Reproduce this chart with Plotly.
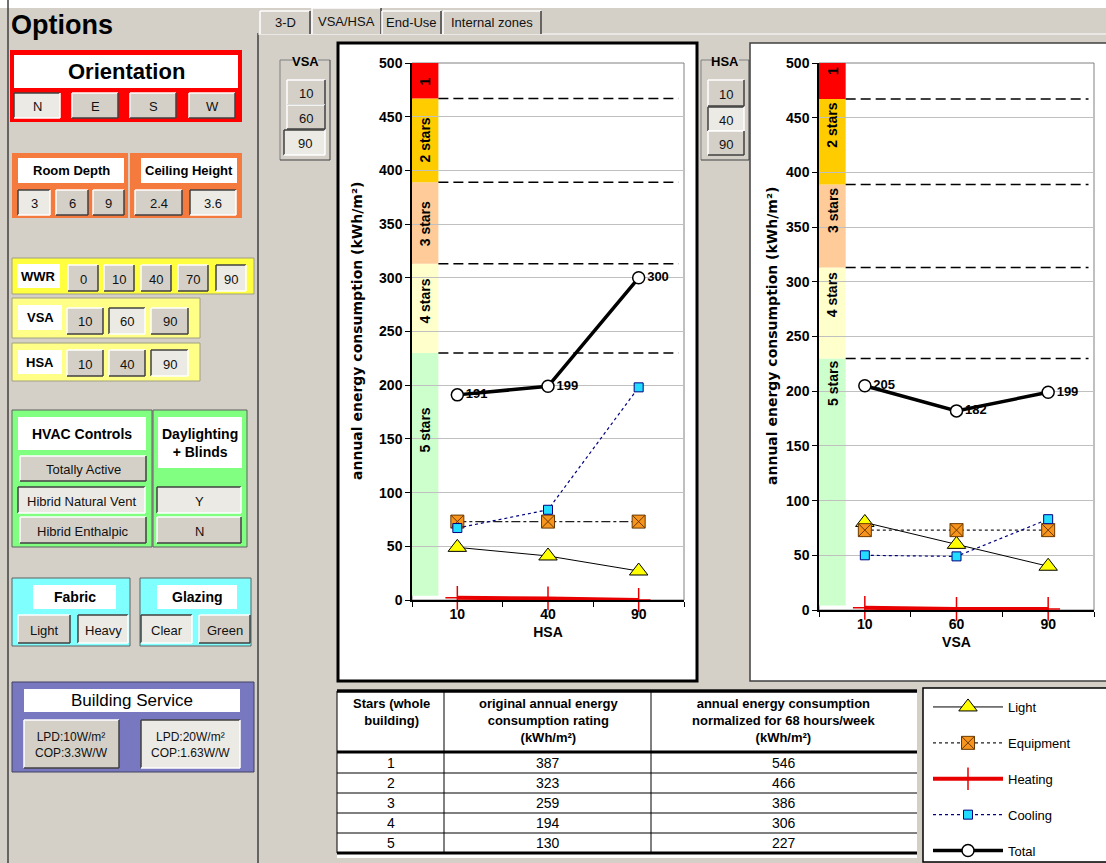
import plotly.graph_objects as go

W, H = 1106, 863

# ---------------- data ----------------
hsa_categories = ['10', '40', '90']
vsa_categories = ['10', '60', '90']

hsa_light = [49, 41, 27]
hsa_equipment = [73, 73, 73]
hsa_heating = [2, 1.5, 0]
hsa_cooling = [67, 84, 198]
hsa_total = [191, 199, 300]

vsa_light = [80, 60, 40]
vsa_equipment = [73, 73, 73]
vsa_heating = [2, 1, 1]
vsa_cooling = [50, 49, 83]
vsa_total = [205, 182, 199]

star_labels = ['5 stars', '4 stars', '3 stars', '2 stars', '1']
star_bounds = [4, 230, 313, 389, 467, 500]
star_thresholds = [230, 313, 389, 467]

table_stars = ['1', '2', '3', '4', '5']
table_original = ['387', '323', '259', '194', '130']
table_normalized = ['546', '466', '386', '306', '227']

series_names = ['Light', 'Equipment', 'Heating', 'Cooling', 'Total']

# ---------------- helpers ----------------
BG = '#D4D0C8'
UI = 'Liberation Sans, Arial, sans-serif'
NARROW = 'Liberation Sans Narrow, Arial Narrow, Liberation Sans, Arial, sans-serif'

shapes = []
annotations = []


def X(px):
    return px / W


def Y(py):
    return 1 - py / H


def rect(x0, y0, x1, y1, fill=None, line=None, lw=1):
    shapes.append(dict(type='rect', xref='paper', yref='paper', layer='below',
                       x0=X(x0), x1=X(x1), y0=Y(y1), y1=Y(y0),
                       fillcolor=fill if fill else 'rgba(0,0,0,0)',
                       line=dict(color=line if line else 'rgba(0,0,0,0)', width=lw if line else 0)))


def seg(x0, y0, x1, y1, color='#000', lw=1, dash=None):
    d = dict(color=color, width=lw)
    if dash:
        d['dash'] = dash
    shapes.append(dict(type='line', xref='paper', yref='paper', layer='below',
                       x0=X(x0), x1=X(x1), y0=Y(y0), y1=Y(y1), line=d))


def text(x, y, t, size=13, color='#111', bold=False, xanchor='center', font=UI, angle=0):
    annotations.append(dict(xref='paper', yref='paper', x=X(x), y=Y(y), text=t,
                            showarrow=False, xanchor=xanchor, yanchor='middle', textangle=angle,
                            font=dict(family=font, size=size, color=color,
                                      weight='bold' if bold else 'normal')))


def button(x0, y0, x1, y1, label, pressed=False, size=13):
    fill = '#ECEAE5' if pressed else BG
    rect(x0, y0, x1, y1, fill)
    dark, light = '#404040', '#FFFFFF'
    tl = dark if pressed else light
    br = light if pressed else dark
    seg(x0, y0, x1, y0, tl, 1.5)
    seg(x0, y0, x0, y1, tl, 1.5)
    seg(x0, y1, x1, y1, br, 1.5)
    seg(x1, y0, x1, y1, br, 1.5)
    text((x0 + x1) / 2, (y0 + y1) / 2 + 1, label, size)


def label_box(x0, y0, x1, y1, label, size=13, bold=True):
    rect(x0, y0, x1, y1, '#FFFFFF')
    text((x0 + x1) / 2, (y0 + y1) / 2, label, size, '#000', bold)


# ---------------- page background ----------------
rect(0, 0, W, 8, '#FFFFFF')
seg(8, 0, 8, H, '#404040', 1.5)
seg(258, 33, 258, H, '#404040', 1.5)
seg(258, 34, W, 34, '#FFFFFF', 1)

# ---------------- left options panel ----------------
text(9, 25, 'Options', 27, '#000', True, 'left')

# Orientation
rect(10, 50, 242, 122, '#FF0000')
label_box(14, 55, 238, 88, 'Orientation', 22)
for (a, b), lab, p in zip([(14, 60), (72, 118), (130, 176), (189, 235)], ['N', 'E', 'S', 'W'],
                          [True, False, False, False]):
    button(a, 93, b, 118, lab, p)

# Room depth / ceiling height
OR = '#F47A3E'
rect(12, 153, 128, 218, OR)
rect(130, 153, 242, 218, OR)
label_box(18, 158, 124, 183, 'Room Depth', 13)
label_box(141, 158, 237, 183, 'Ceiling Height', 13)
for (a, b), lab, p in zip([(18, 50), (56, 88), (93, 124)], ['3', '6', '9'], [True, False, False]):
    button(a, 190, b, 215, lab, p)
for (a, b), lab, p in zip([(135, 182), (190, 236)], ['2.4', '3.6'], [False, True]):
    button(a, 190, b, 215, lab, p)

# WWR
rect(12, 258, 254, 294, '#FFFF40', '#A0A080')
label_box(17, 264, 60, 288, 'WWR', 13)
for (a, b), lab, p in zip([(68, 98), (104, 134), (141, 171), (178, 208), (216, 246)],
                          ['0', '10', '40', '70', '90'], [False, False, False, False, True]):
    button(a, 265, b, 291, lab, p)

# VSA / HSA
rect(12, 298, 200, 338, '#FFFF88', '#A0A080')
label_box(18, 305, 62, 330, 'VSA', 13)
for (a, b), lab, p in zip([(67, 103), (109, 145), (151, 188)], ['10', '60', '90'], [False, True, False]):
    button(a, 308, b, 334, lab, p)
rect(12, 343, 200, 381, '#FFFF88', '#A0A080')
label_box(18, 350, 62, 374, 'HSA', 13)
for (a, b), lab, p in zip([(67, 103), (109, 145), (151, 188)], ['10', '40', '90'], [False, False, True]):
    button(a, 350, b, 376, lab, p)

# HVAC / Daylighting
GR = '#80FF80'
rect(12, 410, 152, 547, GR, '#606060')
rect(153, 410, 247, 547, GR, '#606060')
label_box(18, 417, 146, 450, 'HVAC Controls', 14)
label_box(158, 417, 242, 468, 'Daylighting<br>+ Blinds', 14)
button(20, 456, 146, 481, 'Totally Active')
button(18, 487, 145, 513, 'Hibrid Natural Vent', True)
button(20, 517, 146, 543, 'Hibrid Enthalpic')
button(157, 487, 241, 513, 'Y', True)
button(157, 517, 241, 543, 'N')

# Fabric / Glazing
CY = '#80FFFF'
rect(12, 578, 130, 646, CY, '#606060')
rect(140, 578, 251, 646, CY, '#606060')
label_box(33, 585, 116, 609, 'Fabric', 14)
label_box(157, 585, 237, 609, 'Glazing', 14)
button(18, 615, 70, 643, 'Light')
button(78, 615, 128, 643, 'Heavy', True)
button(141, 615, 192, 643, 'Clear', True)
button(199, 615, 250, 643, 'Green')

# Building service
rect(12, 682, 254, 772, '#7878C0', '#404060')
label_box(24, 689, 240, 712, 'Building Service', 17, False)
button(24, 720, 119, 768, 'LPD:10W/m²<br>COP:3.3W/W', False, 12)
button(141, 720, 240, 768, 'LPD:20W/m²<br>COP:1.63W/W', True, 12)

# ---------------- tabs ----------------
for (a, b), lab, active in zip([(260, 310), (312, 381), (382, 441), (443, 541)],
                               ['3-D', 'VSA/HSA', 'End-Use', 'Internal zones'],
                               [False, True, False, False]):
    top = 8 if active else 11
    rect(a, top, b, 34, BG)
    seg(a, top, b, top, '#FFFFFF', 1.5)
    seg(a, top, a, 34, '#FFFFFF', 1.5)
    seg(b, top, b, 34, '#404040', 1.5)
    text((a + b) / 2, 21 if active else 23, lab, 13)

# VSA group box
seg(280, 60, 293, 60, '#808080'); seg(318, 60, 330, 60, '#808080')
seg(280, 60, 280, 160, '#808080'); seg(330, 60, 330, 160, '#404040'); seg(280, 160, 330, 160, '#404040')
text(305, 61, 'VSA', 13, '#000', True)
button(287, 80, 325, 105, '10')
button(287, 105, 325, 129, '60')
button(284, 130, 325, 155, '90', True)

# HSA group box
seg(701, 60, 712, 60, '#808080'); seg(739, 60, 749, 60, '#808080')
seg(701, 60, 701, 160, '#808080'); seg(749, 60, 749, 160, '#404040')
seg(701, 160, 749, 160, '#404040')
text(725, 61, 'HSA', 13, '#000', True)
button(708, 80, 744, 106, '10')
button(708, 107, 744, 131, '40', True)
button(708, 131, 744, 155, '90')

# ---------------- chart frames ----------------
rect(338, 43, 697, 681, '#FFFFFF', '#000000', 3)
rect(750, 43, 1110, 681, '#FFFFFF', '#404040', 1.5)

# ---------------- table ----------------
TX0, TX1 = 337, 917
rect(TX0, 689, TX1, 858, '#FFFFFF')
seg(TX0, 691, TX1, 691, '#000', 3.5)
seg(TX0, 752, TX1, 752, '#000', 3)
seg(TX0, 853, TX1, 853, '#000', 3)
row_tops = [753 + 20 * i for i in range(len(table_stars))]
for yy in row_tops[1:]:
    seg(TX0, yy, TX1, yy, '#000', 1)
for xx in [TX0, 444, 651]:
    seg(xx, 691, xx, 853, '#000', 1)
text(391, 712, 'Stars (whole<br>building)', 13, '#000', True, font=NARROW)
text(548, 720, 'original annual energy<br>consumption rating<br>(kWh/m²)', 13, '#000', True, font=NARROW)
text(784, 720, 'annual energy consumption<br>normalized for 68 hours/week<br>(kWh/m²)', 13, '#000', True, font=NARROW)
for i in range(len(table_stars)):
    cy = row_tops[i] + 10
    text(391, cy, table_stars[i], 14, '#000', font=NARROW)
    text(548, cy, table_original[i], 14, '#000', font=NARROW)
    text(784, cy, table_normalized[i], 14, '#000', font=NARROW)

# legend box
rect(923, 688, 1112, 862, '#FFFFFF', '#000000', 1.5)

# ---------------- charts ----------------
band_colors = ['#CCFFCC', '#FFFFCC', '#FFCC99', '#FFCC00', '#FF0000']
BAND_W = 0.097


def chart_decor(xr, yr, label_pos):
    xd = xr + ' domain'
    yd = yr + ' domain'
    shapes.append(dict(type='rect', xref=xd, yref=yd, x0=0, x1=1, y0=0, y1=1, layer='below',
                       line=dict(color='#808080', width=1)))
    for i in range(len(star_labels)):
        shapes.append(dict(type='rect', xref=xd, yref=yr, x0=0, x1=BAND_W,
                           y0=star_bounds[i], y1=star_bounds[i + 1], layer='below',
                           fillcolor=band_colors[i], line=dict(width=0)))
        annotations.append(dict(xref=xd, yref=yr, x=BAND_W / 2, y=label_pos[i], text=star_labels[i],
                                textangle=-90, showarrow=False, xanchor='center', yanchor='middle',
                                font=dict(family=UI, size=14, color='#000', weight='bold')))
    for t in star_thresholds:
        shapes.append(dict(type='line', xref=xd, yref=yr, x0=BAND_W, x1=0.98, y0=t, y1=t,
                           layer='below', line=dict(color='#000', width=1.5, dash='10px,5px')))


chart_decor('x', 'y', [158, 278, 350, 428, 483])
chart_decor('x2', 'y2', [207, 288, 365, 443, 493])

traces = []


def add_series(cats, light, equip, heat, cool, total, xa, ya, show, equip_dash):
    common = dict(xaxis=xa, yaxis=ya, showlegend=show, mode='lines+markers', cliponaxis=False)
    traces.append(go.Scatter(x=cats, y=light, name=series_names[0], legendgroup='a', **common,
                             line=dict(color='#000', width=1),
                             marker=dict(symbol='triangle-up', size=16, color='#FFFF00',
                                         line=dict(color='#000', width=1))))
    traces.append(go.Scatter(x=cats, y=equip, name=series_names[1], legendgroup='b', **common,
                             line=dict(color='#202020', width=1.2, dash=equip_dash),
                             marker=dict(symbol='square-x', size=13, color='#F7941D',
                                         line=dict(color='#6B3A00', width=1))))
    traces.append(go.Scatter(x=cats, y=heat, name=series_names[2], legendgroup='c', **common,
                             line=dict(color='#E80000', width=4),
                             marker=dict(symbol='cross-thin', size=17, color='#FF0000',
                                         line=dict(color='#E80000', width=1.5))))
    traces.append(go.Scatter(x=cats, y=cool, name=series_names[3], legendgroup='d', **common,
                             line=dict(color='#000080', width=1.2, dash='dot'),
                             marker=dict(symbol='square', size=9, color='#22DDFF',
                                         line=dict(color='#000080', width=1))))
    traces.append(go.Scatter(x=cats, y=total, name=series_names[4], legendgroup='e',
                             xaxis=xa, yaxis=ya, showlegend=show, mode='lines+markers+text',
                             cliponaxis=False,
                             text=[str(v) for v in total], textposition='middle right',
                             textfont=dict(family=UI, size=13, color='#000', weight='bold'),
                             line=dict(color='#000', width=3.5),
                             marker=dict(symbol='circle', size=12, color='#FFFFFF',
                                         line=dict(color='#000', width=1.5))))


add_series(hsa_categories, hsa_light, hsa_equipment, hsa_heating, hsa_cooling, hsa_total,
           'x', 'y', False, 'dashdot')
add_series(vsa_categories, vsa_light, vsa_equipment, vsa_heating, vsa_cooling, vsa_total,
           'x2', 'y2', True, 'dot')

fig = go.Figure(traces)


def xaxis_def(domain, anchor, cats, title):
    return dict(domain=domain, anchor=anchor, type='category', categoryorder='array', categoryarray=cats,
                tickson='boundaries', ticks='outside', ticklen=5, tickcolor='#000', showline=True,
                linecolor='#000', linewidth=1.5, showgrid=False, zeroline=False, range=[-0.5, 2.5],
                tickfont=dict(family=UI, size=14, color='#000', weight='bold'),
                title=dict(text=title, standoff=7,
                           font=dict(family=UI, size=14, color='#000', weight='bold')))


def yaxis_def(domain, anchor):
    return dict(domain=domain, anchor=anchor, range=[0, 500], dtick=50, tick0=0, ticks='outside',
                ticklen=5, tickcolor='#000', showline=True, linecolor='#000', linewidth=1.5,
                showgrid=True, gridcolor='#C0C0C0', gridwidth=1, zeroline=False,
                tickfont=dict(family=UI, size=14, color='#000', weight='bold'))


text(357, 331, 'annual energy consumption (kWh/m²)', 14, '#000', True, font='DejaVu Sans, sans-serif', angle=-90)
text(772, 336, 'annual energy consumption (kWh/m²)', 14, '#000', True, font='DejaVu Sans, sans-serif', angle=-90)

fig.update_layout(
    width=W, height=H, margin=dict(l=0, r=0, t=0, b=0, autoexpand=False),
    paper_bgcolor=BG, plot_bgcolor='rgba(0,0,0,0)',
    xaxis=xaxis_def([X(412), X(684)], 'y', hsa_categories, 'HSA'),
    yaxis=yaxis_def([Y(600), Y(63)], 'x'),
    xaxis2=xaxis_def([X(819), X(1094)], 'y2', vsa_categories, 'VSA'),
    yaxis2=yaxis_def([Y(610), Y(63)], 'x2'),
    shapes=shapes, annotations=annotations,
    legend=dict(x=X(928), y=Y(866), xanchor='left', yanchor='bottom', bgcolor='rgba(0,0,0,0)',
                itemwidth=70, tracegroupgap=16, font=dict(family=UI, size=13, color='#000')),
    showlegend=True,
)

fig.write_html('out.html', config={'displayModeBar': False},
               post_script="document.body.style.margin='0';document.body.style.padding='0';")
